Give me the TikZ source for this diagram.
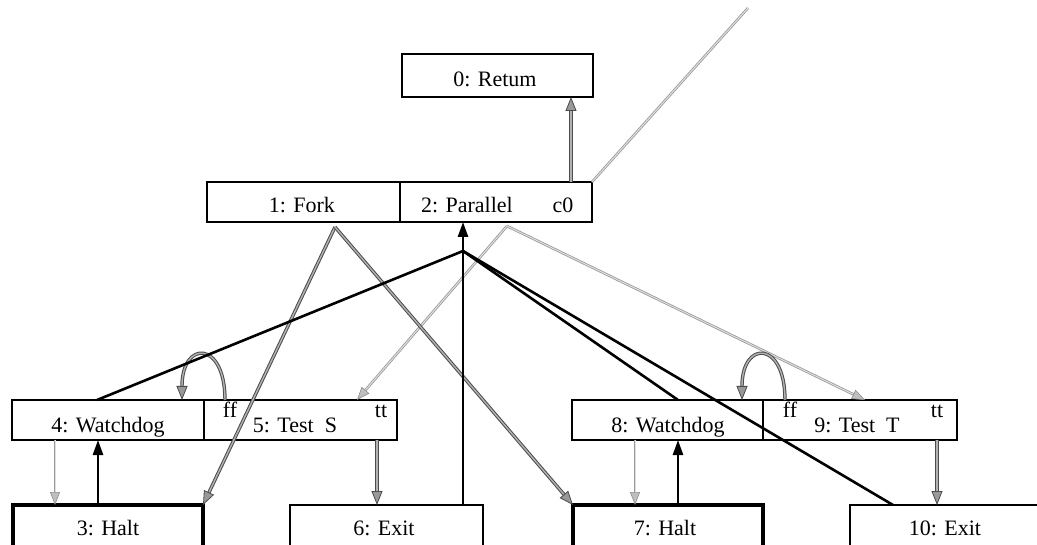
\documentclass[tikz,border=0pt]{standalone}
\usepackage{fontspec}
\setmainfont{Liberation Serif}
\usetikzlibrary{arrows.meta}
\begin{document}
\begin{tikzpicture}[x=1pt,y=-1pt,
  box/.style={draw=black, line width=2.2pt, rectangle, inner sep=0pt, outer sep=0pt, anchor=north west},
  haltbox/.style={box, line width=4pt},
  lbl/.style={font=\fontsize{22}{24}\selectfont, inner sep=0pt, anchor=base},
  solidline/.style={draw=black, line width=2.6pt},
  solidarrow/.style={solidline, -{Triangle[width=10pt,length=15pt]}},
  hatch/.style={draw=black!70, line width=1pt, double=black!30, double distance=1.4pt},
  hatcharrow/.style={hatch, -{Triangle[width=11pt,length=14pt,fill=black!40,color=black!70,line width=0.8pt]}},
  lightline/.style={draw=black!40, line width=0.8pt, double=black!12, double distance=1pt},
  lightarrow/.style={lightline, -{Triangle[width=10pt,length=13pt,fill=black!25,color=black!45,line width=0.6pt]}},
]
\clip (0,0) rectangle (1037,545);
\fill[white] (0,0) rectangle (1037,545);

% boxes
\node[box, minimum width=191pt, minimum height=43pt] (ret) at (402,54) {};
\node[box, minimum width=193pt, minimum height=40pt] (fork) at (207,182) {};
\node[box, minimum width=192pt, minimum height=40pt] (par) at (400,182) {};
\node[box, minimum width=192pt, minimum height=40pt] (wd4) at (12,400) {};
\node[box, minimum width=193pt, minimum height=40pt] (ts5) at (204,400) {};
\node[box, minimum width=191pt, minimum height=40pt] (wd8) at (572,400) {};
\node[box, minimum width=194pt, minimum height=40pt] (tt9) at (763,400) {};
\node[haltbox, minimum width=190pt, minimum height=60pt] (halt3) at (13,505) {};
\node[box, minimum width=193pt, minimum height=60pt] (exit6) at (290,505) {};
\node[haltbox, minimum width=190pt, minimum height=60pt] (halt7) at (573,505) {};
\node[box, minimum width=190pt, minimum height=60pt] (exit10) at (850,505) {};

% labels
\node[lbl] (tret) at (495,87) {0: Retum};
\node[lbl] (tfork) at (302,213) {1: Fork};
\node[lbl] (tpar) at (467,213) {2: Parallel};
\node[lbl] (tc0) at (563,213) {c0};
\node[lbl] (twd4) at (108,433) {4: Watchdog};
\node[lbl] (tts5) at (295,433) {5: Test\ \ S};
\node[lbl] (tff5) at (230,418) {ff};
\node[lbl] (ttt5) at (381,418) {tt};
\node[lbl] (twd8) at (668,433) {8: Watchdog};
\node[lbl] (tts9) at (857,433) {9: Test\ \ T};
\node[lbl] (tff9) at (790,418) {ff};
\node[lbl] (ttt9) at (937,418) {tt};
\node[lbl] (thalt3) at (108,535) {3: Halt};
\node[lbl] (texit6) at (384,535) {6: Exit};
\node[lbl] (thalt7) at (665,535) {7: Halt};
\node[lbl] (texit10) at (945,535) {10: Exit};

% helper coordinates
\coordinate (c0) at ([xshift=75pt]par.north);
\coordinate (fk) at ([xshift=31.5pt,yshift=-5pt]fork.south);
\coordinate (J) at ([xshift=-33pt,yshift=-29pt]par.south);
\coordinate (V) at ([xshift=11pt,yshift=-4pt]par.south);
\coordinate (far) at (748,8);

% light dotted connectors
\draw[lightline] (par.north east) -- (far);
\draw[lightarrow] (V) -- ([xshift=56.5pt]ts5.north);
\draw[lightarrow] (V) -- ([xshift=5pt]tt9.north);
\draw[lightarrow] ([xshift=-53pt]wd4.south) -- ([xshift=-53pt]wd4.south |- halt3.north);
\draw[lightarrow] ([xshift=-32.5pt]wd8.south) -- ([xshift=-32.5pt]wd8.south |- halt7.north);

% hatched connectors
\draw[hatcharrow] (c0) -- (c0 |- ret.south);
\draw[hatcharrow] (fk) -- (halt3.north east);
\draw[hatcharrow] (fk) -- (halt7.north west);
\draw[hatcharrow] ([xshift=-75.5pt]ts5.north) .. controls +(0,-60) and +(0,-60) .. ([xshift=74pt]wd4.north);
\draw[hatcharrow] ([xshift=-75pt]tt9.north) .. controls +(0,-60) and +(0,-60) .. ([xshift=74.5pt]wd8.north);
\draw[hatcharrow] ([xshift=76.5pt]ts5.south) -- ([xshift=76.5pt]ts5.south |- exit6.north);
\draw[hatcharrow] ([xshift=77pt]tt9.south) -- ([xshift=77pt]tt9.south |- exit10.north);

% solid connectors
\draw[solidarrow] (exit6.north -| J) -- (J |- par.south);
\draw[solidline] (J) -- ([xshift=-11pt]wd4.north);
\draw[solidline] (J) -- ([xshift=10.5pt]wd8.north);
\draw[solidline] (J) -- ([xshift=-52pt]exit10.north);
\draw[solidarrow] ([xshift=-10pt]wd4.south |- halt3.north) -- ([xshift=-10pt]wd4.south);
\draw[solidarrow] ([xshift=10.5pt]wd8.south |- halt7.north) -- ([xshift=10.5pt]wd8.south);
\end{tikzpicture}
\end{document}
